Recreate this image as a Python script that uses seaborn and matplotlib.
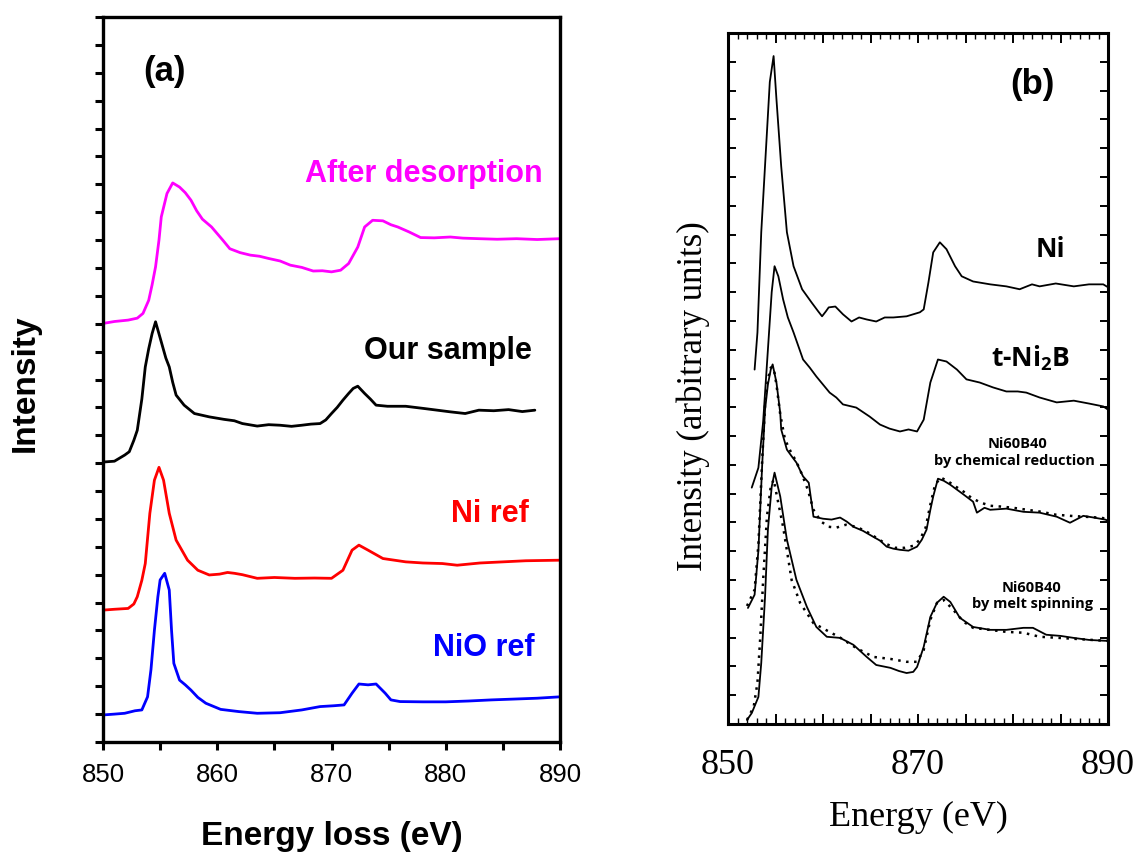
import matplotlib
matplotlib.use("Agg")
import matplotlib.pyplot as plt
from matplotlib.ticker import MultipleLocator, FuncFormatter, NullFormatter
import seaborn as sns

# ---------------- (a) EELS Ni L2,3 edges ----------------
after_E = [850, 851, 852.2, 853.0, 853.5, 854.0, 854.3, 854.6, 854.9, 855.1, 855.6, 856.1,
           856.7, 857.2, 857.7, 858.2, 858.7, 859.5, 860.5, 861.1, 862.0, 862.9, 863.7, 864.5,
           865.5, 866.4, 867.4, 868.4, 869.2, 870.0, 870.8, 871.5, 872.3, 872.9, 873.6, 874.5,
           875.2, 875.8, 876.8, 877.8, 879.0, 880.4, 881.5, 882.9, 884.5, 886.2, 888.0, 890]
after_I = [15.01, 15.08, 15.13, 15.20, 15.37, 15.84, 16.40, 17.04, 18.00, 18.83, 19.67, 20.05,
           19.90, 19.70, 19.43, 19.05, 18.75, 18.47, 17.99, 17.69, 17.55, 17.46, 17.42, 17.34,
           17.25, 17.10, 17.02, 16.89, 16.90, 16.86, 16.92, 17.16, 17.75, 18.47, 18.71, 18.69,
           18.55, 18.47, 18.29, 18.09, 18.08, 18.11, 18.07, 18.05, 18.03, 18.05, 18.02, 18.05]

ours_E = [850, 851, 851.9, 852.3, 852.7, 853.0, 853.4, 853.7, 854.0, 854.3, 854.6, 855.1,
          855.5, 855.8, 856.1, 856.4, 857.1, 858.0, 859.3, 860.6, 861.5, 862.2, 863.5, 864.5,
          865.5, 866.5, 867.4, 868.2, 869.0, 869.5, 870.0, 870.5, 871.0, 871.5, 871.9, 872.3,
          872.9, 873.4, 873.9, 874.9, 876.5, 878.1, 880.4, 881.7, 882.9, 884.2, 885.5, 886.7, 887.8]
ours_I = [10.04, 10.07, 10.29, 10.41, 10.82, 11.18, 12.30, 13.45, 14.10, 14.65, 15.07, 14.35,
          13.77, 13.45, 12.90, 12.44, 12.08, 11.78, 11.66, 11.57, 11.52, 11.42, 11.33, 11.38,
          11.36, 11.32, 11.36, 11.40, 11.42, 11.55, 11.78, 12.00, 12.26, 12.50, 12.68, 12.76,
          12.50, 12.30, 12.08, 12.04, 12.04, 11.96, 11.84, 11.78, 11.90, 11.88, 11.92, 11.85, 11.90]

niref_E = [850, 851, 852.2, 852.7, 853.0, 853.4, 853.7, 854.1, 854.5, 854.9, 855.3, 855.8,
           856.4, 857.4, 858.3, 859.3, 860.2, 860.9, 861.5, 862.2, 863.5, 865.0, 866.8, 868.5,
           870.0, 871.0, 871.8, 872.4, 873.2, 874.5, 876.5, 878.0, 879.7, 881.0, 883.0, 885.0,
           887.0, 890]
niref_I = [4.73, 4.76, 4.79, 4.95, 5.21, 5.80, 6.40, 8.20, 9.39, 9.85, 9.39, 8.20,
           7.24, 6.52, 6.16, 5.99, 6.02, 6.08, 6.05, 6.00, 5.87, 5.90, 5.87, 5.88,
           5.87, 6.16, 6.88, 7.06, 6.88, 6.58, 6.46, 6.42, 6.40, 6.34, 6.42, 6.46,
           6.50, 6.52]

nio_E = [850, 851, 851.9, 852.8, 853.4, 853.9, 854.2, 854.5, 854.8, 855.0, 855.4, 855.8,
         856.0, 856.2, 856.7, 857.2, 857.7, 858.3, 859.0, 860.3, 861.9, 863.5, 865.5, 867.4,
         869.0, 870.2, 871.1, 871.8, 872.4, 873.2, 873.9, 874.7, 875.2, 876.0, 878.0, 880.0,
         882.0, 884.0, 886.0, 888.0, 890]
nio_I = [0.97, 1.00, 1.03, 1.12, 1.15, 1.62, 2.60, 4.01, 5.20, 5.81, 6.05, 5.45,
         4.00, 2.82, 2.22, 2.05, 1.86, 1.60, 1.39, 1.17, 1.09, 1.03, 1.05, 1.15,
         1.27, 1.30, 1.33, 1.75, 2.08, 2.05, 2.08, 1.75, 1.51, 1.45, 1.44, 1.44,
         1.47, 1.51, 1.54, 1.57, 1.62]

labels_a = ["After desorption", "Our sample", "Ni ref", "NiO ref"]
colors_a = ["#FF00FF", "#000000", "#FF0000", "#0000FF"]

# ---------------- (b) reference Ni L2,3 spectra ----------------
ni_E = [852.8, 853.1, 853.5, 854.1, 854.4, 854.8, 855.1, 855.6, 856.2, 856.9, 857.8, 858.8,
        859.5, 859.9, 860.3, 860.6, 861.3, 862.1, 863.0, 863.8, 864.6, 865.6, 866.5, 867.4,
        868.8, 870.2, 870.6, 871.1, 871.6, 872.3, 873.0, 873.9, 874.6, 875.8, 877.6, 879.3,
        880.7, 882.0, 882.8, 884.5, 886.4, 888.0, 889.5, 890]
ni_I = [12.31, 13.60, 17.08, 20.56, 22.30, 23.20, 21.70, 19.37, 17.08, 15.90, 15.10, 14.64,
        14.33, 14.16, 14.33, 14.47, 14.50, 14.23, 13.98, 14.12, 14.05, 13.98, 14.12, 14.12,
        14.16, 14.30, 14.40, 15.34, 16.38, 16.73, 16.49, 15.90, 15.55, 15.37, 15.27, 15.20,
        15.10, 15.27, 15.20, 15.30, 15.20, 15.27, 15.27, 15.17]

ni2b_E = [852.5, 853.2, 853.7, 854.2, 854.6, 854.9, 855.3, 855.8, 856.3, 856.9, 857.9, 858.6,
          859.3, 860.0, 860.7, 861.4, 862.1, 863.5, 864.9, 866.0, 867.0, 868.1, 869.0, 869.9,
          870.6, 871.3, 872.1, 873.0, 874.1, 875.1, 876.5, 877.9, 879.3, 880.5, 881.4, 882.8,
          884.6, 886.4, 888.0, 889.5, 890]
ni2b_I = [8.21, 8.90, 10.50, 13.00, 15.00, 15.90, 15.55, 14.75, 14.12, 13.60, 12.66, 12.38,
          12.07, 11.79, 11.51, 11.34, 11.10, 10.99, 10.68, 10.40, 10.26, 10.16, 10.23, 10.16,
          10.57, 11.86, 12.66, 12.59, 12.31, 11.97, 11.86, 11.69, 11.55, 11.55, 11.51, 11.34,
          11.17, 11.23, 11.13, 11.03, 10.92]

chem_E = [852.1, 852.8, 853.2, 853.6, 853.9, 854.2, 854.5, 854.7, 855.1, 855.5, 855.6, 856.2,
          856.7, 857.2, 857.9, 858.5, 859.0, 860.0, 860.9, 861.8, 862.5, 863.2, 864.2, 865.3,
          866.0, 866.7, 867.4, 868.1, 869.0, 869.9, 870.4, 870.9, 871.3, 871.6, 872.1, 872.7,
          873.4, 874.1, 874.8, 875.8, 876.2, 877.0, 877.6, 879.3, 881.1, 882.8, 884.6, 886.0,
          887.4, 888.5, 889.7, 890]
chem_I = [4.03, 4.49, 6.02, 9.01, 10.92, 11.79, 12.31, 12.49, 11.86, 10.80, 10.23, 9.53,
          9.30, 9.08, 8.60, 8.38, 7.20, 7.13, 7.10, 7.17, 7.03, 6.85, 6.71, 6.50,
          6.37, 6.16, 6.09, 6.05, 6.02, 6.16, 6.40, 6.75, 7.44, 7.90, 8.52, 8.45,
          8.31, 8.14, 7.97, 7.72, 7.34, 7.51, 7.44, 7.48, 7.37, 7.34, 7.20, 6.99,
          7.23, 7.17, 7.10, 7.06]

chem_sim_E = [852.0, 852.8, 853.2, 853.6, 853.9, 854.2, 854.5, 854.8, 855.1, 855.5, 856.0, 856.6,
              857.2, 857.8, 858.4, 859.0, 859.8, 860.6, 861.4, 862.4, 863.5, 864.6, 865.6, 866.6,
              867.6, 868.6, 869.5, 870.2, 870.8, 871.3, 871.8, 872.4, 873.2, 874.0, 874.8, 875.6,
              876.6, 877.6, 878.8, 880.0, 881.5, 883.0, 884.5, 886.0, 887.5, 889.0, 890]
chem_sim_I = [4.10, 4.66, 6.23, 9.18, 11.10, 11.97, 12.38, 12.38, 11.79, 10.75, 9.88, 9.46,
              9.11, 8.66, 8.14, 7.44, 7.03, 6.85, 6.82, 6.92, 6.85, 6.68, 6.47, 6.26,
              6.12, 6.12, 6.19, 6.40, 6.82, 7.62, 8.31, 8.56, 8.42, 8.24, 8.07, 7.86,
              7.69, 7.58, 7.55, 7.51, 7.44, 7.37, 7.27, 7.23, 7.20, 7.17, 7.13]

melt_E = [852.0, 852.5, 853.2, 853.5, 853.9, 854.2, 854.6, 854.9, 855.5, 856.2, 857.2, 858.3,
          859.3, 860.4, 861.8, 863.2, 864.6, 865.6, 867.1, 868.0, 868.8, 869.5, 869.9, 870.6,
          871.3, 872.0, 872.7, 873.4, 874.4, 875.8, 877.6, 879.3, 881.1, 882.1, 883.5, 885.0,
          886.4, 888.0, 889.7, 890]
melt_I = [0.14, 0.38, 0.94, 2.12, 4.42, 6.75, 8.24, 8.73, 7.90, 6.40, 5.01, 4.07,
          3.37, 3.03, 2.99, 2.75, 2.33, 2.05, 1.95, 1.84, 1.77, 1.81, 1.98, 2.68,
          3.72, 4.21, 4.42, 4.24, 3.69, 3.37, 3.27, 3.27, 3.34, 3.34, 3.10, 3.06,
          2.99, 2.92, 2.89, 2.89]

melt_sim_E = [852.0, 852.7, 853.1, 853.4, 853.7, 854.1, 854.5, 854.8, 855.8, 856.7, 857.6, 859.0,
              861.8, 863.5, 865.3, 867.1, 868.8, 869.9, 870.6, 871.3, 872.0, 872.7, 873.7, 874.8,
              875.8, 879.3, 881.1, 882.8, 886.4, 889.7, 890]
melt_sim_I = [0.14, 0.59, 1.43, 3.03, 5.00, 7.20, 8.24, 8.49, 6.85, 5.00, 4.20, 3.50,
              3.00, 2.64, 2.33, 2.26, 2.16, 2.16, 2.57, 3.62, 4.21, 4.31, 3.97, 3.55,
              3.34, 3.20, 3.17, 3.03, 2.96, 2.89, 2.89]

sns.set_theme(style="ticks")
plt.rcParams["font.family"] = ["Liberation Sans", "DejaVu Sans"]
plt.rcParams["mathtext.fontset"] = "custom"
plt.rcParams["mathtext.rm"] = "Open Sans:bold"
plt.rcParams["mathtext.it"] = "Open Sans:bold"
plt.rcParams["mathtext.bf"] = "Open Sans:bold"
for key in ["text.color", "axes.labelcolor", "xtick.color", "ytick.color", "axes.edgecolor"]:
    plt.rcParams[key] = "black"

fig = plt.figure(figsize=(11.41, 8.57), dpi=100)
ax_a = fig.add_axes([103 / 1141, 115 / 857, 457 / 1141, 725 / 857])
ax_b = fig.add_axes([728 / 1141, 133 / 857, 380 / 1141, 691 / 857])

# ---- panel (a) ----
series_a = [(after_E, after_I), (ours_E, ours_I), (niref_E, niref_I), (nio_E, nio_I)]
for (E, I), c in zip(series_a, colors_a):
    sns.lineplot(x=E, y=I, ax=ax_a, color=c, lw=2.0, estimator=None, sort=False, legend=False)

ax_a.set_xlim(850, 890)
ax_a.set_ylim(0, 26)
ax_a.xaxis.set_major_locator(MultipleLocator(5))
ax_a.xaxis.set_major_formatter(FuncFormatter(lambda v, p: f"{v:.0f}" if round(v) % 10 == 0 else ""))
ax_a.yaxis.set_major_locator(MultipleLocator(1))
ax_a.yaxis.set_major_formatter(NullFormatter())
ax_a.tick_params(axis="x", direction="out", length=6, width=2.2, labelsize=18.5, pad=9)
ax_a.tick_params(axis="y", direction="out", length=6, width=2.2)
for sp in ax_a.spines.values():
    sp.set_linewidth(2.4)
    sp.set_visible(True)
ax_a.set_xlabel("Energy loss (eV)", fontsize=24, fontweight="bold")
ax_a.xaxis.set_label_coords(0.5, -0.130)
ax_a.xaxis.label.set_va("center")
ax_a.set_ylabel("Intensity", fontsize=24, fontweight="bold")
ax_a.yaxis.label.set_va("center")
ax_a.yaxis.set_label_coords(-0.171, 0.495)

ax_a.text(853.5, 23.7, "(a)", fontsize=25, fontweight="bold", ha="left", va="baseline")
label_pos_a = [(888.45, 20.08), (887.5, 13.75), (887.3, 7.9), (887.8, 3.08)]
for (x, y), t, c in zip(label_pos_a, labels_a, colors_a):
    ax_a.text(x, y, t, color=c, fontsize=22, fontweight="bold", ha="right", va="baseline")

# ---- panel (b) ----
solid_b = [(ni_E, ni_I), (ni2b_E, ni2b_I), (chem_E, chem_I), (melt_E, melt_I)]
for E, I in solid_b:
    sns.lineplot(x=E, y=I, ax=ax_b, color="black", lw=1.3, estimator=None, sort=False, legend=False)
for E, I in [(chem_sim_E, chem_sim_I), (melt_sim_E, melt_sim_I)]:
    sns.lineplot(x=E, y=I, ax=ax_b, color="black", lw=1.8, linestyle=(0, (1, 2.2)),
                 estimator=None, sort=False, legend=False)

ax_b.set_xlim(850, 890)
ax_b.set_ylim(0, 24)
ax_b.xaxis.set_major_locator(MultipleLocator(5))
ax_b.xaxis.set_minor_locator(MultipleLocator(1))
ax_b.xaxis.set_major_formatter(FuncFormatter(lambda v, p: f"{v:.0f}" if round(v) % 20 == 10 else ""))
ax_b.yaxis.set_major_locator(MultipleLocator(1))
ax_b.yaxis.set_major_formatter(NullFormatter())
ax_b.tick_params(axis="x", which="major", direction="in", length=7, width=1.4, top=True,
                 labelsize=26, pad=18)
ax_b.tick_params(axis="x", which="minor", direction="in", length=4, width=1.0, top=True)
ax_b.tick_params(axis="y", direction="in", length=6, width=1.4, right=True)
for lab in ax_b.get_xticklabels():
    lab.set_family(["Liberation Serif", "DejaVu Serif"])
for sp in ax_b.spines.values():
    sp.set_linewidth(2.2)
    sp.set_visible(True)
serif = ["Liberation Serif", "DejaVu Serif"]
ax_b.set_xlabel("Energy (eV)", fontsize=26, family=serif)
ax_b.xaxis.label.set_va("center")
ax_b.xaxis.set_label_coords(0.5, -0.136)
ax_b.set_ylabel("Intensity (arbitrary units)", fontsize=25, family=serif)
ax_b.yaxis.label.set_va("center")
ax_b.yaxis.set_label_coords(-0.092, 0.475)

ax_b.text(879.7, 21.88, "(b)", fontsize=25, fontweight="bold", ha="left", va="baseline")
lab_font = dict(family=["Open Sans", "DejaVu Sans"], fontweight="bold", color="black")
ax_b.text(885.5, 16.21, "Ni", fontsize=19, ha="right", va="baseline", **lab_font)
ax_b.text(886.0, 12.42, "t-Ni$_2$B", fontsize=19, ha="right", va="baseline", **lab_font)
ax_b.text(880.5, 9.6, "Ni60B40", fontsize=10.5, ha="center", va="baseline", **lab_font)
ax_b.text(880.2, 9.0, "by chemical reduction", fontsize=10.5, ha="center", va="baseline", **lab_font)
ax_b.text(881.9, 4.59, "Ni60B40", fontsize=10.5, ha="center", va="baseline", **lab_font)
ax_b.text(882.05, 4.03, "by melt spinning", fontsize=10.5, ha="center", va="baseline", **lab_font)

fig.savefig("out.png", dpi=100)
